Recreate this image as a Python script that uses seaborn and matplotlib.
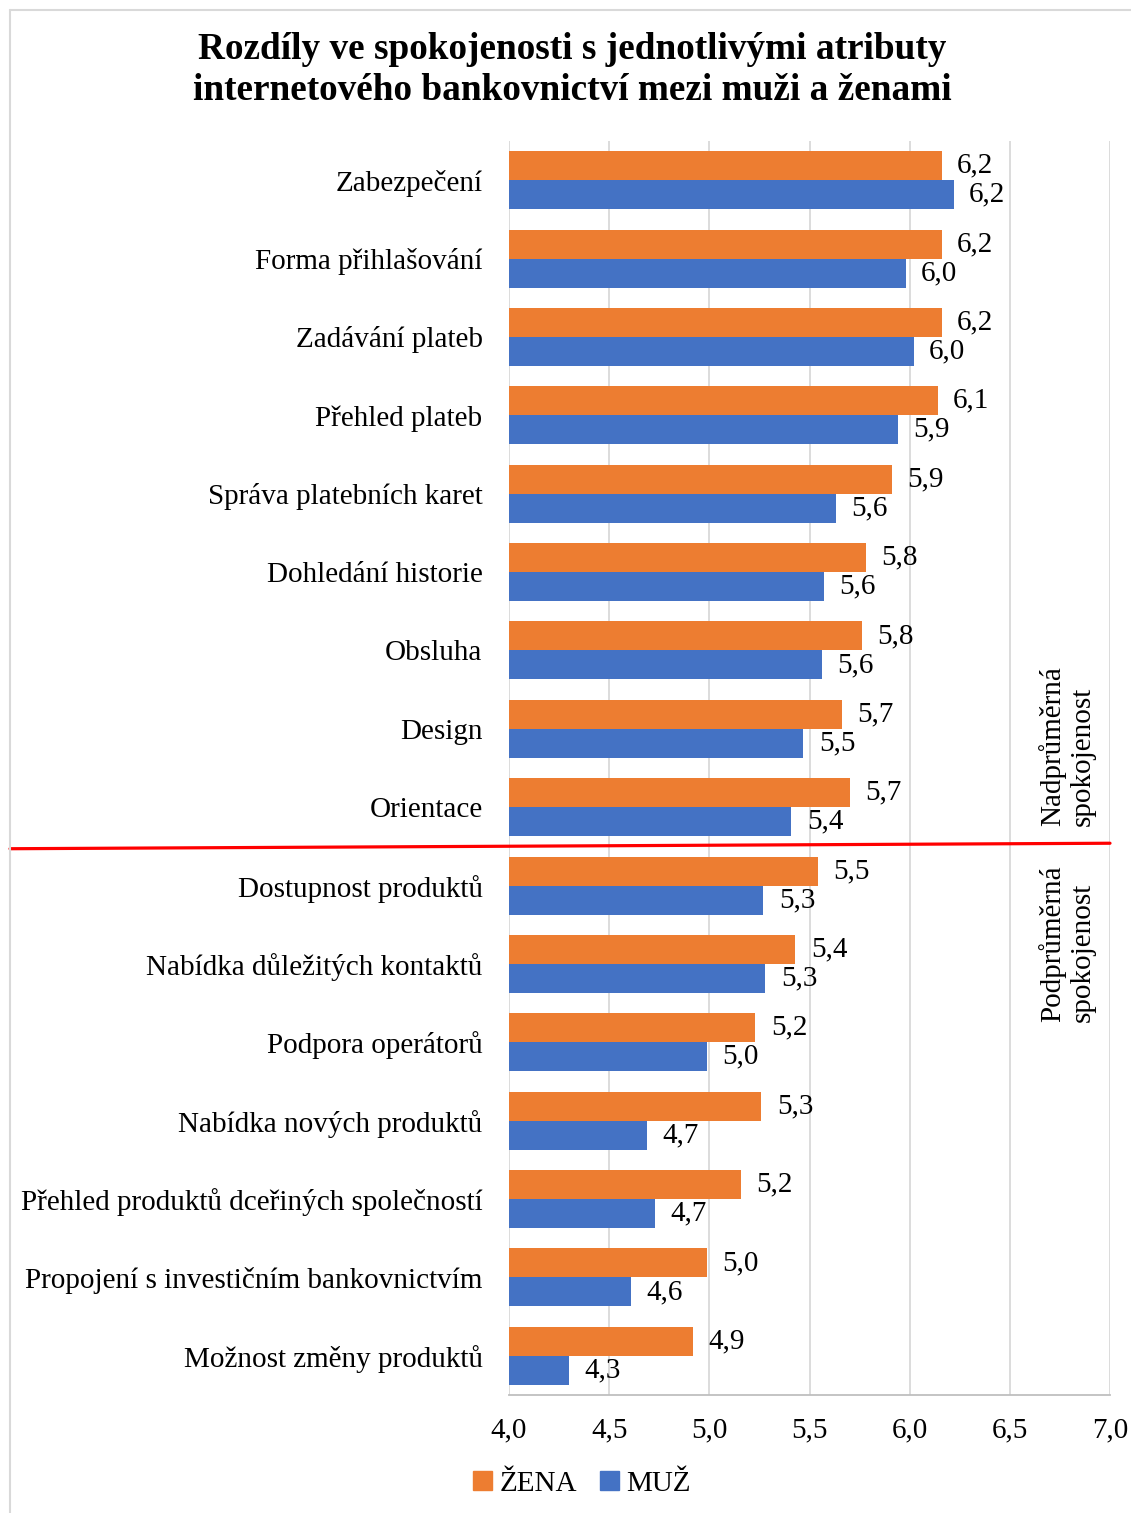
import matplotlib
matplotlib.use("Agg")
import matplotlib.pyplot as plt
import matplotlib.transforms as mtransforms
from matplotlib.lines import Line2D
import seaborn as sns
import pandas as pd

categories = [
    "Zabezpečení", "Forma přihlašování", "Zadávání plateb", "Přehled plateb",
    "Správa platebních karet", "Dohledání historie", "Obsluha", "Design",
    "Orientace", "Dostupnost produktů", "Nabídka důležitých kontaktů",
    "Podpora operátorů", "Nabídka nových produktů",
    "Přehled produktů dceřiných společností",
    "Propojení s investičním bankovnictvím", "Možnost změny produktů",
]
zena = [6.16, 6.16, 6.16, 6.14, 5.91, 5.78, 5.76, 5.66, 5.70,
        5.54, 5.43, 5.23, 5.26, 5.16, 4.99, 4.92]
muz = [6.22, 5.98, 6.02, 5.94, 5.63, 5.57, 5.56, 5.47, 5.41,
       5.27, 5.28, 4.99, 4.69, 4.73, 4.61, 4.30]
series = ["ŽENA", "MUŽ"]
colors = ["#ED7D31", "#4472C4"]
xticks = [4.0, 4.5, 5.0, 5.5, 6.0, 6.5, 7.0]
title = "Rozdíly ve spokojenosti s jednotlivými atributy\ninternetového bankovnictví mezi muži a ženami"

df = pd.DataFrame({
    "kategorie": categories * 2,
    "hodnota": zena + muz,
    "pohlavi": [series[0]] * len(categories) + [series[1]] * len(categories),
})

sns.set_theme(style="white")
plt.rcParams["font.family"] = ["Liberation Serif", "DejaVu Serif"]
plt.rcParams["text.color"] = "black"
plt.rcParams["xtick.color"] = "black"
plt.rcParams["ytick.color"] = "black"

FS = 21
W, H = 1131, 1513
fig = plt.figure(figsize=(W / 100, H / 100), dpi=100)
ax = fig.add_axes([509 / W, 1 - 1395 / H, (1110 - 509) / W, (1395 - 141) / H])

sns.barplot(data=df, y="kategorie", x="hodnota", hue="pohlavi",
            order=categories, hue_order=series, palette=colors,
            saturation=1, orient="h", width=0.74, ax=ax, legend=False,
            edgecolor="none", linewidth=0)

ax.set_xlim(4.0, 7.0)
ax.set_xticks(xticks)
ax.set_xticklabels([f"{t:.1f}".replace(".", ",") for t in xticks])
ax.set_xlabel("")
ax.set_ylabel("")
ax.grid(axis="x", color="#D9D9D9", linewidth=1.3)
ax.grid(axis="y", visible=False)
ax.set_axisbelow(True)
for s in ["top", "right", "left"]:
    ax.spines[s].set_visible(False)
ax.spines["bottom"].set_color("#BFBFBF")
ax.spines["bottom"].set_linewidth(1.3)
ax.tick_params(axis="y", length=0, pad=19, labelsize=FS, colors="black")
ax.tick_params(axis="x", length=0, pad=16, labelsize=FS, colors="black")

for cont in ax.containers:
    ax.bar_label(cont, fmt=lambda v: f"{v:.1f}".replace(".", ","),
                 padding=11, fontsize=FS, color="black")

# red separating line between above- and below-average groups
tr = mtransforms.blended_transform_factory(ax.transAxes, ax.transData)
ax.add_line(Line2D([(10 - 509) / (1110 - 509), 1.0], [8.53, 8.46],
                   transform=tr, color="#FF0000", linewidth=2.3,
                   clip_on=False, zorder=5))

fig.text(1067 / W, 1 - 746 / H, "Nadprůměrná\nspokojenost", rotation=90,
         ha="center", va="center", multialignment="left",
         fontsize=FS, linespacing=1.22)
fig.text(1067 / W, 1 - 944 / H, "Podprůměrná\nspokojenost", rotation=90,
         ha="center", va="center", multialignment="left",
         fontsize=FS, linespacing=1.22)

fig.text(572 / W, 1 - 70 / H, title, ha="center", va="center",
         fontsize=26.8, fontweight="bold", linespacing=1.2)

handles = [plt.Rectangle((0, 0), 1, 1, color=c) for c in colors]
fig.legend(handles, series, loc="center", ncol=2,
           bbox_to_anchor=(582 / W, 1 - 1484 / H), frameon=False,
           fontsize=FS, handlelength=0.65, handleheight=0.65,
           handletextpad=0.25, columnspacing=0.8)

# chart frame (top and left edges visible)
fig.add_artist(Line2D([10 / W, 1], [1 - 10 / H, 1 - 10 / H],
                      transform=fig.transFigure, color="#D9D9D9", linewidth=1.5))
fig.add_artist(Line2D([10 / W, 10 / W], [0, 1 - 10 / H],
                      transform=fig.transFigure, color="#D9D9D9", linewidth=1.5))

fig.savefig("out.png", dpi=100, facecolor="white")
